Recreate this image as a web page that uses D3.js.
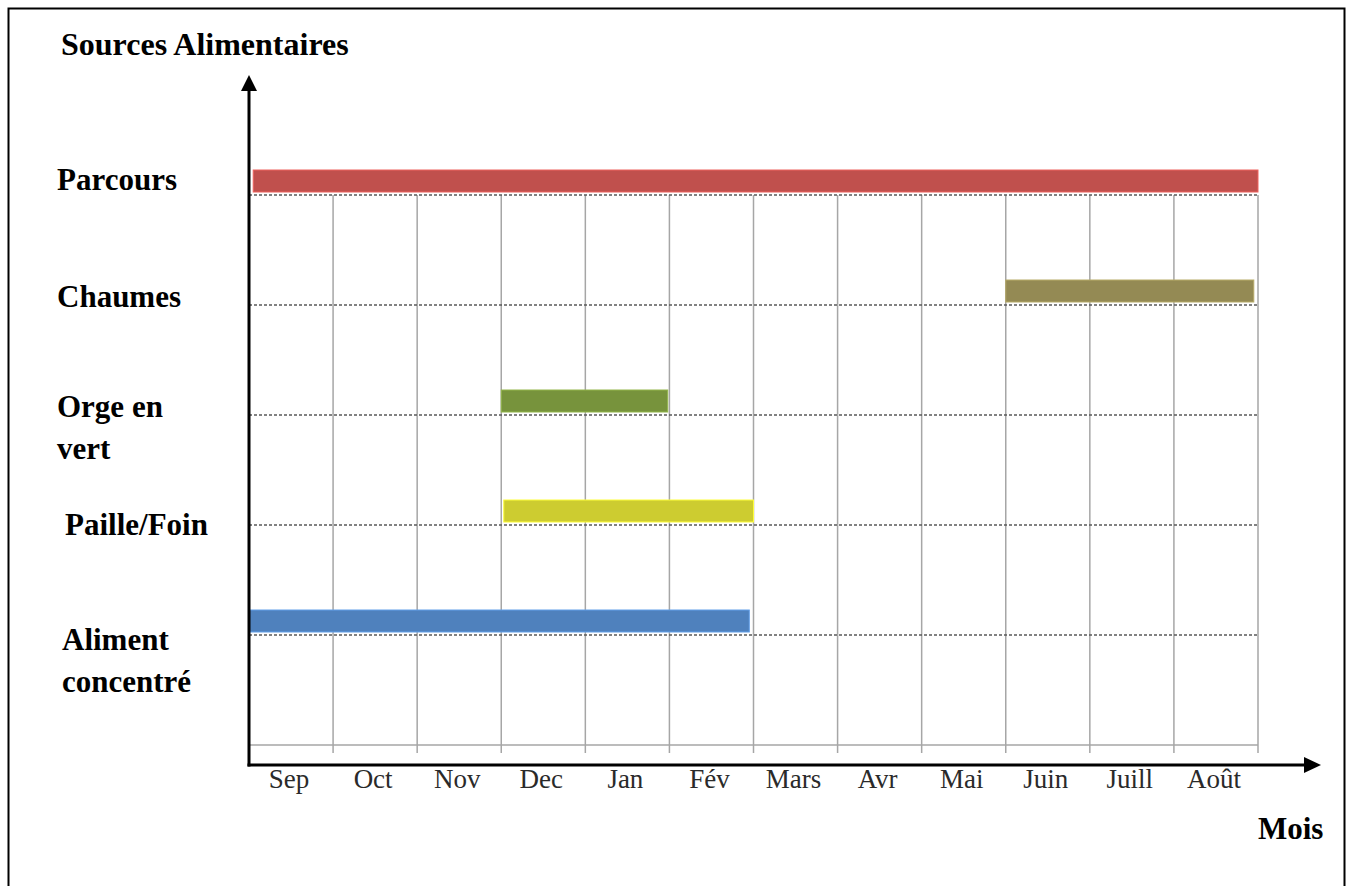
<!DOCTYPE html>
<html>
<head>
<meta charset="utf-8">
<script src="https://cdn.jsdelivr.net/npm/d3@7"></script>
<style>
  html, body { margin: 0; padding: 0; background: #fff; }
  svg { display: block; }
  text { font-family: "Liberation Serif", "Times New Roman", Tinos, "DejaVu Serif", serif; }
</style>
</head>
<body>
<svg id="chart" width="1351" height="886"></svg>
<script>
// ---- Data ----
const months = ["Sep", "Oct", "Nov", "Dec", "Jan", "Fév", "Mars", "Avr", "Mai", "Juin", "Juill", "Août"];
const categories = ["Parcours", "Chaumes", "Orge en vert", "Paille/Foin", "Aliment concentré"];
const categoryLines = [["Parcours"], ["Chaumes"], ["Orge en", "vert"], ["Paille/Foin"], ["Aliment", "concentré"]];
// start / end in months from the beginning of September
const barStart = [0.05, 9.0, 3.0, 3.03, 0.0];
const barEnd   = [12.0, 11.95, 4.98, 6.0, 5.95];
const barColors = ["#C0504D", "#948A54", "#77933C", "#CDCC30", "#4F81BD"];
const yTitle = "Sources Alimentaires";
const xTitle = "Mois";

// ---- Layout ----
const svg = d3.select("#chart");
const x = d3.scaleLinear().domain([0, 12]).range([249, 1258]);
const y = d3.scalePoint().domain(categories).range([195, 635]);
const gridBottom = 745;
const axisY = 765;

// outer frame
svg.append("rect").attr("x", 8.5).attr("y", 8.5).attr("width", 1336).attr("height", 900)
  .attr("fill", "none").attr("stroke", "#000").attr("stroke-width", 2);

// vertical grid lines
const g = svg.append("g");
g.selectAll("line.v").data(d3.range(1, 13)).join("line")
  .attr("class", "v")
  .attr("x1", d => x(d)).attr("x2", d => x(d))
  .attr("y1", y(categories[0])).attr("y2", 753)
  .attr("stroke", "#a6a6a6").attr("stroke-width", 1.5);

// bottom solid grid line
g.append("line").attr("x1", x(0)).attr("x2", x(12)).attr("y1", gridBottom).attr("y2", gridBottom)
  .attr("stroke", "#a6a6a6").attr("stroke-width", 1.5);

// dotted category lines
g.selectAll("line.h").data(categories).join("line")
  .attr("class", "h")
  .attr("x1", x(0)).attr("x2", x(12))
  .attr("y1", d => y(d)).attr("y2", d => y(d))
  .attr("stroke", "#5a5a5a").attr("stroke-width", 1.5).attr("stroke-dasharray", "3,2");

// bars
svg.selectAll("rect.bar").data(categories).join("rect")
  .attr("class", "bar")
  .attr("x", (d, i) => x(barStart[i]))
  .attr("width", (d, i) => x(barEnd[i]) - x(barStart[i]))
  .attr("y", d => y(d) - 25)
  .attr("height", 22)
  .attr("fill", (d, i) => barColors[i])
  .attr("stroke", (d, i) => d3.color(barColors[i]).brighter(0.6))
  .attr("stroke-width", 1);

// axes with arrows
svg.append("line").attr("x1", x(0)).attr("x2", x(0)).attr("y1", 88).attr("y2", axisY + 1.5)
  .attr("stroke", "#000").attr("stroke-width", 3);
svg.append("path").attr("d", `M${x(0)},75 L${x(0) - 8},91 L${x(0) + 8},91 Z`).attr("fill", "#000");
svg.append("line").attr("x1", x(0) - 1.5).attr("x2", 1306).attr("y1", axisY).attr("y2", axisY)
  .attr("stroke", "#000").attr("stroke-width", 3);
svg.append("path").attr("d", `M1321,${axisY} L1304,${axisY - 8} L1304,${axisY + 8} Z`).attr("fill", "#000");

// month tick labels
svg.selectAll("text.month").data(months).join("text")
  .attr("class", "month")
  .attr("x", (d, i) => x(i + 0.5) - 2)
  .attr("y", 788)
  .attr("text-anchor", "middle")
  .attr("font-size", 27)
  .attr("fill", "#2a2a2a")
  .text(d => d);

// category labels
const labelX = [57, 57, 57, 65, 62];
const labelBase = [190, 307, 417, 535, 650];
const lab = svg.selectAll("text.cat").data(categoryLines).join("text")
  .attr("class", "cat")
  .attr("font-weight", "bold")
  .attr("font-size", 31)
  .attr("fill", "#000");
lab.each(function(lines, i) {
  d3.select(this).selectAll("tspan").data(lines).join("tspan")
    .attr("x", labelX[i])
    .attr("y", (l, j) => labelBase[i] + j * 42)
    .text(l => l);
});

// titles
svg.append("text").attr("x", 61).attr("y", 55)
  .attr("font-weight", "bold").attr("font-size", 32)
  .text(yTitle);
svg.append("text").attr("x", 1258).attr("y", 839)
  .attr("font-weight", "bold").attr("font-size", 31)
  .text(xTitle);
</script>
</body>
</html>
